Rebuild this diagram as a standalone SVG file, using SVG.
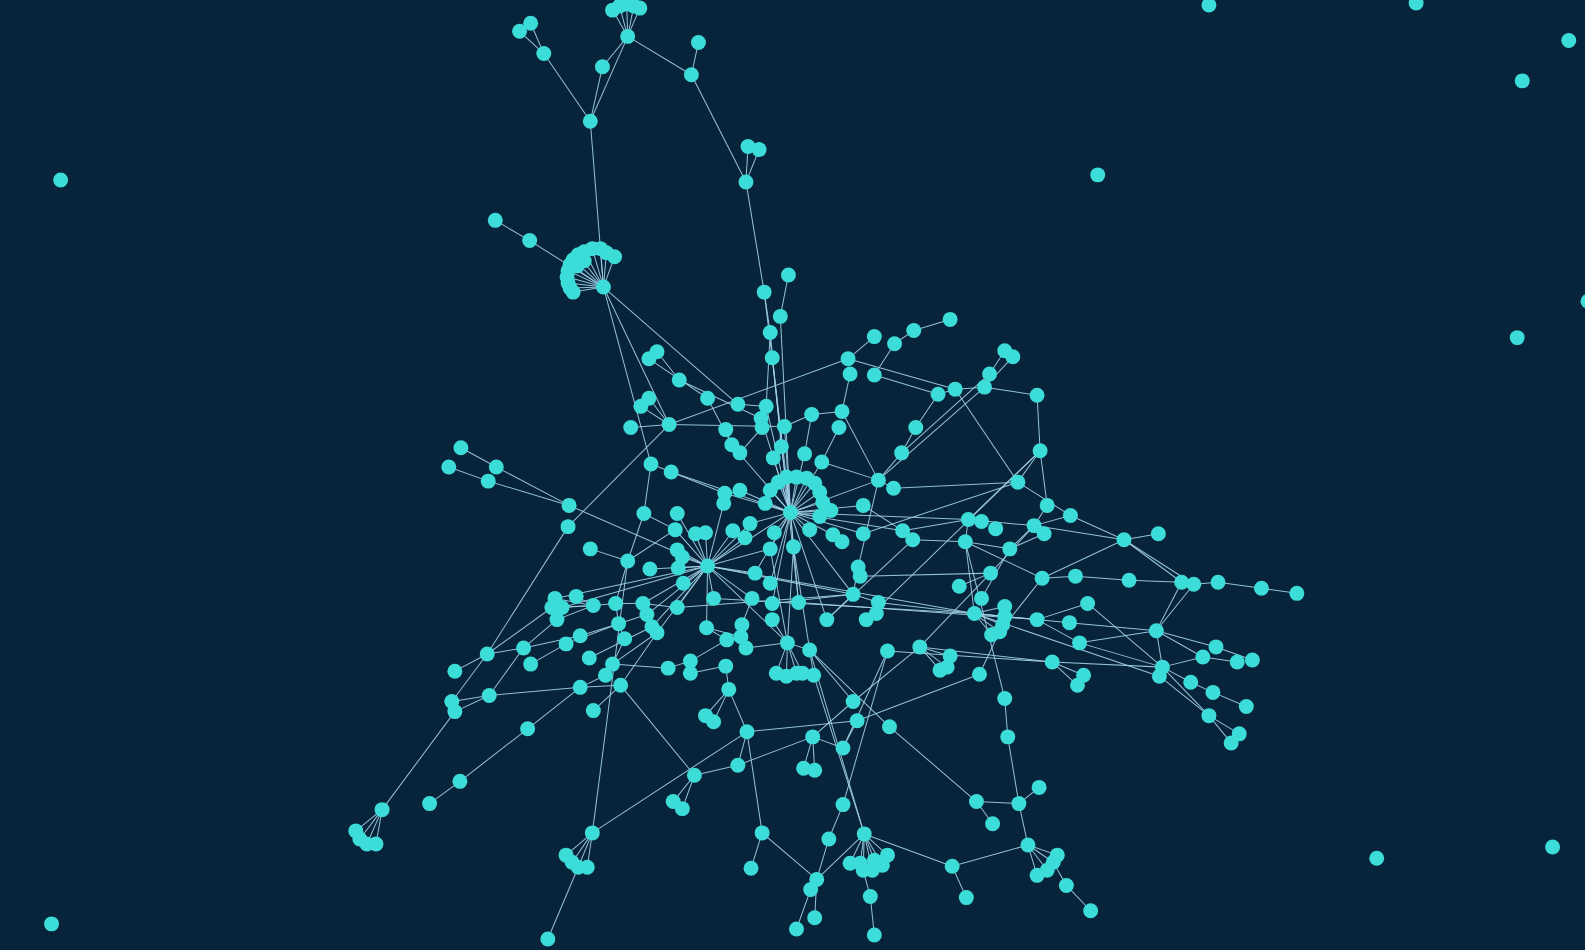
<svg xmlns="http://www.w3.org/2000/svg" width="1585" height="950" viewBox="0 0 1585 950">
<style>
.bg{fill:#07243a}
#edges line{stroke:#a4d3ea;stroke-width:1;stroke-opacity:0.9}
.nd circle{fill:#3cdcd8}
</style>
<rect class="bg" x="0" y="0" width="1585" height="950"/>
<g transform="scale(1.0108)">
<g id="edges">
<line x1="621" y1="36" x2="606" y2="10"/><line x1="621" y1="36" x2="613" y2="6"/><line x1="621" y1="36" x2="620" y2="4"/><line x1="621" y1="36" x2="627" y2="6"/><line x1="621" y1="36" x2="633" y2="8"/>
<line x1="621" y1="36" x2="684" y2="74"/><line x1="684" y1="74" x2="691" y2="42"/><line x1="621" y1="36" x2="596" y2="66"/><line x1="596" y1="66" x2="584" y2="120"/><line x1="621" y1="36" x2="584" y2="120"/>
<line x1="584" y1="120" x2="538" y2="53"/><line x1="538" y1="53" x2="514" y2="31"/><line x1="538" y1="53" x2="525" y2="23"/><line x1="684" y1="74" x2="738" y2="180"/><line x1="738" y1="180" x2="740" y2="145"/><line x1="738" y1="180" x2="751" y2="148"/><line x1="738" y1="180" x2="756" y2="289"/><line x1="584" y1="120" x2="597" y2="284"/>
<line x1="490" y1="218" x2="524" y2="238"/><line x1="524" y1="238" x2="597" y2="284"/>
<line x1="597" y1="284" x2="608" y2="254"/><line x1="597" y1="284" x2="600" y2="250"/><line x1="597" y1="284" x2="594" y2="246"/><line x1="597" y1="284" x2="586" y2="246"/><line x1="597" y1="284" x2="578" y2="249"/><line x1="597" y1="284" x2="572" y2="252"/><line x1="597" y1="284" x2="567" y2="257"/><line x1="597" y1="284" x2="564" y2="262"/><line x1="597" y1="284" x2="562" y2="268"/><line x1="597" y1="284" x2="561" y2="274"/><line x1="597" y1="284" x2="562" y2="280"/><line x1="597" y1="284" x2="564" y2="285"/><line x1="597" y1="284" x2="567" y2="289"/>
<line x1="597" y1="284" x2="644" y2="459"/><line x1="597" y1="284" x2="662" y2="420"/><line x1="597" y1="284" x2="730" y2="400"/>
<line x1="780" y1="272" x2="772" y2="313"/><line x1="756" y1="289" x2="762" y2="329"/><line x1="756" y1="289" x2="764" y2="354"/><line x1="772" y1="313" x2="782" y2="507"/><line x1="762" y1="329" x2="773" y2="442"/><line x1="764" y1="354" x2="782" y2="507"/><line x1="764" y1="354" x2="790" y2="596"/><line x1="762" y1="329" x2="758" y2="402"/>
<line x1="885" y1="340" x2="904" y2="327"/><line x1="904" y1="327" x2="940" y2="316"/><line x1="885" y1="340" x2="865" y2="371"/><line x1="839" y1="355" x2="865" y2="333"/>
<line x1="839" y1="355" x2="662" y2="420"/><line x1="839" y1="355" x2="945" y2="385"/><line x1="841" y1="370" x2="833" y2="407"/><line x1="833" y1="407" x2="803" y2="410"/><line x1="803" y1="410" x2="796" y2="449"/><line x1="803" y1="410" x2="776" y2="422"/><line x1="830" y1="423" x2="813" y2="457"/><line x1="813" y1="457" x2="869" y2="475"/><line x1="833" y1="407" x2="869" y2="475"/><line x1="869" y1="475" x2="892" y2="448"/><line x1="892" y1="448" x2="906" y2="423"/><line x1="906" y1="423" x2="928" y2="390"/><line x1="869" y1="475" x2="884" y2="483"/><line x1="869" y1="475" x2="782" y2="507"/><line x1="869" y1="475" x2="849" y2="561"/><line x1="865" y1="371" x2="928" y2="390"/><line x1="928" y1="390" x2="945" y2="385"/><line x1="945" y1="385" x2="974" y2="383"/><line x1="974" y1="383" x2="1026" y2="391"/><line x1="994" y1="347" x2="979" y2="370"/><line x1="1002" y1="353" x2="974" y2="383"/><line x1="979" y1="370" x2="892" y2="448"/><line x1="974" y1="383" x2="869" y2="475"/><line x1="1026" y1="391" x2="1029" y2="446"/><line x1="1029" y1="446" x2="1036" y2="500"/><line x1="1029" y1="446" x2="958" y2="514"/><line x1="1029" y1="446" x2="857" y2="613"/><line x1="1007" y1="477" x2="945" y2="385"/><line x1="1007" y1="477" x2="1059" y2="510"/><line x1="1007" y1="477" x2="854" y2="528"/><line x1="1007" y1="477" x2="1029" y2="446"/><line x1="884" y1="483" x2="1007" y2="477"/><line x1="1059" y1="510" x2="1112" y2="534"/><line x1="1036" y1="500" x2="1023" y2="520"/><line x1="1059" y1="510" x2="1023" y2="520"/><line x1="1112" y1="534" x2="1146" y2="528"/><line x1="1112" y1="534" x2="1169" y2="576"/><line x1="1112" y1="534" x2="1181" y2="578"/><line x1="1112" y1="534" x2="1031" y2="572"/><line x1="1112" y1="534" x2="1023" y2="520"/>
<line x1="1031" y1="572" x2="1064" y2="570"/><line x1="1064" y1="570" x2="1117" y2="574"/><line x1="1117" y1="574" x2="1169" y2="576"/><line x1="1169" y1="576" x2="1144" y2="624"/><line x1="1181" y1="578" x2="1144" y2="624"/><line x1="1181" y1="578" x2="1205" y2="576"/><line x1="1205" y1="576" x2="1248" y2="582"/><line x1="1248" y1="582" x2="1283" y2="587"/>
<line x1="1031" y1="572" x2="989" y2="625"/><line x1="1023" y1="520" x2="958" y2="514"/><line x1="1023" y1="520" x2="999" y2="543"/><line x1="1033" y1="528" x2="999" y2="543"/><line x1="999" y1="543" x2="955" y2="536"/><line x1="958" y1="514" x2="955" y2="536"/><line x1="955" y1="536" x2="964" y2="607"/><line x1="955" y1="536" x2="1031" y2="572"/><line x1="980" y1="567" x2="1023" y2="520"/><line x1="971" y1="592" x2="999" y2="543"/><line x1="949" y1="580" x2="980" y2="567"/>
<line x1="964" y1="607" x2="994" y2="600"/><line x1="964" y1="607" x2="994" y2="610"/><line x1="964" y1="607" x2="992" y2="618"/><line x1="964" y1="607" x2="989" y2="625"/><line x1="964" y1="607" x2="981" y2="628"/><line x1="964" y1="607" x2="1026" y2="613"/><line x1="964" y1="607" x2="1058" y2="616"/><line x1="1026" y1="613" x2="1076" y2="597"/><line x1="1026" y1="613" x2="1068" y2="636"/><line x1="1076" y1="597" x2="1150" y2="660"/><line x1="1058" y1="616" x2="1144" y2="624"/><line x1="1068" y1="636" x2="1144" y2="624"/><line x1="1068" y1="636" x2="1150" y2="660"/><line x1="1041" y1="655" x2="1150" y2="660"/><line x1="1041" y1="655" x2="1072" y2="668"/><line x1="1041" y1="655" x2="1066" y2="678"/><line x1="1041" y1="655" x2="878" y2="644"/><line x1="910" y1="640" x2="1041" y2="655"/><line x1="1144" y1="624" x2="1203" y2="640"/><line x1="1144" y1="624" x2="1190" y2="650"/><line x1="1150" y1="660" x2="1190" y2="650"/><line x1="1150" y1="660" x2="1144" y2="624"/><line x1="1190" y1="650" x2="1224" y2="655"/><line x1="1203" y1="640" x2="1239" y2="653"/><line x1="1150" y1="660" x2="1178" y2="675"/><line x1="1178" y1="675" x2="1200" y2="685"/><line x1="1200" y1="685" x2="1233" y2="699"/><line x1="1147" y1="669" x2="1196" y2="708"/><line x1="1150" y1="660" x2="1196" y2="708"/><line x1="1196" y1="708" x2="1226" y2="726"/><line x1="1196" y1="708" x2="1218" y2="735"/><line x1="964" y1="607" x2="1147" y2="669"/><line x1="869" y1="596" x2="964" y2="607"/><line x1="706" y1="592" x2="964" y2="607"/><line x1="790" y1="596" x2="1026" y2="613"/>
<line x1="782" y1="507" x2="757" y2="498"/><line x1="782" y1="507" x2="762" y2="485"/><line x1="782" y1="507" x2="770" y2="477"/><line x1="782" y1="507" x2="778" y2="472"/><line x1="782" y1="507" x2="788" y2="472"/><line x1="782" y1="507" x2="798" y2="473"/><line x1="782" y1="507" x2="806" y2="478"/><line x1="782" y1="507" x2="811" y2="487"/><line x1="782" y1="507" x2="814" y2="497"/><line x1="782" y1="507" x2="811" y2="511"/>
<line x1="782" y1="507" x2="773" y2="442"/><line x1="782" y1="507" x2="765" y2="453"/><line x1="782" y1="507" x2="796" y2="449"/><line x1="782" y1="507" x2="813" y2="457"/><line x1="782" y1="507" x2="822" y2="505"/><line x1="782" y1="507" x2="801" y2="524"/><line x1="782" y1="507" x2="854" y2="500"/><line x1="782" y1="507" x2="854" y2="528"/><line x1="782" y1="507" x2="824" y2="529"/><line x1="782" y1="507" x2="766" y2="527"/><line x1="782" y1="507" x2="762" y2="543"/><line x1="782" y1="507" x2="785" y2="541"/><line x1="782" y1="507" x2="742" y2="518"/><line x1="782" y1="507" x2="732" y2="485"/><line x1="782" y1="507" x2="717" y2="488"/><line x1="782" y1="507" x2="700" y2="560"/><line x1="782" y1="507" x2="747" y2="567"/><line x1="782" y1="507" x2="762" y2="577"/><line x1="782" y1="507" x2="764" y2="597"/><line x1="782" y1="507" x2="790" y2="596"/><line x1="782" y1="507" x2="818" y2="613"/><line x1="782" y1="507" x2="844" y2="588"/><line x1="782" y1="507" x2="893" y2="525"/><line x1="782" y1="507" x2="724" y2="440"/><line x1="782" y1="507" x2="753" y2="414"/><line x1="782" y1="507" x2="776" y2="422"/><line x1="782" y1="507" x2="758" y2="402"/><line x1="782" y1="507" x2="664" y2="467"/><line x1="782" y1="507" x2="958" y2="514"/>
<line x1="776" y1="422" x2="765" y2="453"/><line x1="662" y1="420" x2="776" y2="422"/><line x1="642" y1="394" x2="662" y2="420"/><line x1="634" y1="402" x2="662" y2="420"/><line x1="624" y1="423" x2="662" y2="420"/><line x1="650" y1="348" x2="672" y2="376"/><line x1="642" y1="355" x2="700" y2="394"/><line x1="700" y1="394" x2="724" y2="440"/><line x1="718" y1="425" x2="724" y2="440"/><line x1="672" y1="376" x2="753" y2="414"/><line x1="730" y1="400" x2="758" y2="402"/><line x1="754" y1="423" x2="732" y2="448"/>
<line x1="644" y1="459" x2="664" y2="467"/><line x1="644" y1="459" x2="637" y2="508"/><line x1="637" y1="508" x2="621" y2="555"/><line x1="637" y1="508" x2="668" y2="524"/><line x1="621" y1="555" x2="584" y2="543"/><line x1="621" y1="555" x2="668" y2="524"/><line x1="621" y1="555" x2="609" y2="597"/><line x1="621" y1="555" x2="586" y2="824"/><line x1="664" y1="467" x2="717" y2="488"/><line x1="562" y1="521" x2="662" y2="420"/><line x1="563" y1="500" x2="700" y2="560"/><line x1="563" y1="500" x2="491" y2="462"/><line x1="563" y1="500" x2="483" y2="476"/><line x1="456" y1="443" x2="491" y2="462"/><line x1="444" y1="462" x2="483" y2="476"/><line x1="562" y1="521" x2="482" y2="647"/>
<line x1="700" y1="560" x2="670" y2="544"/><line x1="700" y1="560" x2="675" y2="551"/><line x1="700" y1="560" x2="671" y2="562"/><line x1="700" y1="560" x2="676" y2="577"/><line x1="700" y1="560" x2="668" y2="524"/><line x1="700" y1="560" x2="688" y2="528"/><line x1="700" y1="560" x2="698" y2="527"/><line x1="700" y1="560" x2="670" y2="508"/><line x1="700" y1="560" x2="670" y2="601"/><line x1="700" y1="560" x2="636" y2="597"/><line x1="700" y1="560" x2="640" y2="608"/><line x1="700" y1="560" x2="645" y2="620"/><line x1="700" y1="560" x2="650" y2="626"/><line x1="700" y1="560" x2="706" y2="592"/><line x1="700" y1="560" x2="747" y2="567"/><line x1="700" y1="560" x2="744" y2="592"/><line x1="700" y1="560" x2="643" y2="563"/><line x1="700" y1="560" x2="716" y2="498"/><line x1="700" y1="560" x2="742" y2="518"/><line x1="700" y1="560" x2="725" y2="525"/><line x1="700" y1="560" x2="737" y2="532"/><line x1="700" y1="560" x2="762" y2="543"/><line x1="700" y1="560" x2="699" y2="621"/><line x1="700" y1="560" x2="549" y2="592"/><line x1="700" y1="560" x2="556" y2="601"/><line x1="700" y1="560" x2="779" y2="636"/><line x1="700" y1="560" x2="844" y2="588"/><line x1="700" y1="560" x2="964" y2="607"/>
<line x1="587" y1="599" x2="549" y2="592"/><line x1="587" y1="599" x2="546" y2="601"/><line x1="587" y1="599" x2="556" y2="601"/><line x1="587" y1="599" x2="551" y2="613"/><line x1="587" y1="599" x2="570" y2="590"/><line x1="587" y1="599" x2="609" y2="597"/><line x1="609" y1="597" x2="636" y2="597"/><line x1="636" y1="597" x2="670" y2="601"/><line x1="609" y1="597" x2="612" y2="617"/><line x1="612" y1="617" x2="618" y2="632"/><line x1="618" y1="632" x2="606" y2="657"/><line x1="612" y1="617" x2="640" y2="608"/><line x1="574" y1="629" x2="612" y2="617"/><line x1="518" y1="641" x2="574" y2="629"/><line x1="518" y1="641" x2="551" y2="613"/><line x1="546" y1="601" x2="482" y2="647"/><line x1="525" y1="657" x2="560" y2="637"/><line x1="560" y1="637" x2="612" y2="617"/><line x1="583" y1="651" x2="645" y2="620"/><line x1="606" y1="657" x2="650" y2="626"/><line x1="599" y1="668" x2="606" y2="657"/><line x1="574" y1="680" x2="599" y2="668"/><line x1="574" y1="680" x2="614" y2="678"/><line x1="606" y1="657" x2="661" y2="661"/><line x1="661" y1="661" x2="683" y2="654"/><line x1="683" y1="654" x2="719" y2="633"/><line x1="683" y1="666" x2="718" y2="659"/><line x1="614" y1="678" x2="650" y2="626"/><line x1="614" y1="678" x2="687" y2="767"/><line x1="587" y1="703" x2="614" y2="678"/><line x1="718" y1="659" x2="721" y2="682"/><line x1="721" y1="682" x2="698" y2="708"/><line x1="721" y1="682" x2="706" y2="714"/><line x1="721" y1="682" x2="739" y2="724"/><line x1="739" y1="724" x2="754" y2="824"/><line x1="739" y1="724" x2="848" y2="713"/><line x1="739" y1="724" x2="730" y2="757"/><line x1="687" y1="767" x2="730" y2="757"/><line x1="730" y1="757" x2="804" y2="729"/><line x1="687" y1="767" x2="666" y2="793"/><line x1="687" y1="767" x2="675" y2="800"/><line x1="586" y1="824" x2="739" y2="724"/>
<line x1="804" y1="729" x2="795" y2="760"/><line x1="804" y1="729" x2="806" y2="762"/><line x1="804" y1="729" x2="844" y2="694"/><line x1="804" y1="729" x2="834" y2="740"/><line x1="844" y1="694" x2="910" y2="640"/><line x1="844" y1="694" x2="801" y2="643"/><line x1="848" y1="713" x2="969" y2="667"/><line x1="848" y1="713" x2="834" y2="740"/><line x1="834" y1="740" x2="878" y2="644"/><line x1="880" y1="719" x2="801" y2="643"/><line x1="880" y1="719" x2="966" y2="793"/><line x1="966" y1="793" x2="1008" y2="795"/><line x1="966" y1="793" x2="982" y2="815"/><line x1="1008" y1="795" x2="1028" y2="779"/><line x1="1008" y1="795" x2="997" y2="729"/><line x1="997" y1="729" x2="994" y2="691"/><line x1="994" y1="691" x2="955" y2="536"/><line x1="1008" y1="795" x2="1017" y2="836"/><line x1="1017" y1="836" x2="1046" y2="846"/><line x1="1017" y1="836" x2="1042" y2="853"/><line x1="1017" y1="836" x2="1036" y2="861"/><line x1="1017" y1="836" x2="1026" y2="866"/><line x1="1042" y1="853" x2="1055" y2="876"/><line x1="1055" y1="876" x2="1079" y2="901"/><line x1="1017" y1="836" x2="942" y2="857"/><line x1="942" y1="857" x2="956" y2="888"/><line x1="942" y1="857" x2="855" y2="825"/>
<line x1="855" y1="825" x2="841" y2="854"/><line x1="855" y1="825" x2="851" y2="854"/><line x1="855" y1="825" x2="854" y2="861"/><line x1="855" y1="825" x2="863" y2="861"/><line x1="855" y1="825" x2="865" y2="851"/><line x1="855" y1="825" x2="873" y2="856"/><line x1="855" y1="825" x2="878" y2="846"/><line x1="854" y1="861" x2="861" y2="887"/><line x1="861" y1="887" x2="865" y2="925"/><line x1="855" y1="825" x2="805" y2="668"/><line x1="855" y1="825" x2="801" y2="643"/><line x1="855" y1="825" x2="808" y2="870"/><line x1="834" y1="796" x2="820" y2="830"/><line x1="820" y1="830" x2="808" y2="870"/><line x1="834" y1="796" x2="878" y2="644"/><line x1="808" y1="870" x2="802" y2="880"/><line x1="802" y1="880" x2="788" y2="919"/><line x1="808" y1="870" x2="806" y2="908"/><line x1="754" y1="824" x2="743" y2="859"/><line x1="754" y1="824" x2="808" y2="870"/>
<line x1="779" y1="636" x2="768" y2="666"/><line x1="779" y1="636" x2="778" y2="669"/><line x1="779" y1="636" x2="788" y2="666"/><line x1="779" y1="636" x2="794" y2="666"/><line x1="779" y1="636" x2="762" y2="543"/><line x1="779" y1="636" x2="785" y2="541"/><line x1="779" y1="636" x2="764" y2="613"/><line x1="779" y1="636" x2="801" y2="643"/><line x1="801" y1="643" x2="805" y2="668"/><line x1="801" y1="643" x2="785" y2="541"/><line x1="910" y1="640" x2="940" y2="649"/><line x1="910" y1="640" x2="937" y2="660"/><line x1="910" y1="640" x2="930" y2="663"/><line x1="910" y1="640" x2="980" y2="567"/><line x1="969" y1="667" x2="992" y2="618"/>
<line x1="844" y1="588" x2="849" y2="561"/><line x1="844" y1="588" x2="869" y2="596"/><line x1="844" y1="588" x2="818" y2="613"/><line x1="844" y1="588" x2="764" y2="597"/><line x1="867" y1="607" x2="869" y2="596"/><line x1="818" y1="613" x2="903" y2="534"/><line x1="670" y1="601" x2="844" y2="588"/><line x1="854" y1="500" x2="893" y2="525"/><line x1="893" y1="525" x2="958" y2="514"/><line x1="903" y1="534" x2="955" y2="536"/><line x1="851" y1="570" x2="980" y2="567"/>
<line x1="734" y1="618" x2="744" y2="592"/><line x1="733" y1="630" x2="699" y2="621"/><line x1="738" y1="641" x2="779" y2="636"/><line x1="719" y1="633" x2="699" y2="621"/>
<line x1="482" y1="647" x2="447" y2="694"/><line x1="482" y1="647" x2="450" y2="664"/><line x1="482" y1="647" x2="518" y2="641"/><line x1="447" y1="694" x2="484" y2="688"/><line x1="450" y1="704" x2="484" y2="688"/><line x1="450" y1="704" x2="378" y2="801"/><line x1="378" y1="801" x2="352" y2="822"/><line x1="378" y1="801" x2="356" y2="830"/><line x1="378" y1="801" x2="363" y2="835"/><line x1="378" y1="801" x2="372" y2="835"/><line x1="484" y1="688" x2="574" y2="680"/><line x1="484" y1="688" x2="518" y2="641"/><line x1="574" y1="680" x2="522" y2="721"/><line x1="522" y1="721" x2="455" y2="773"/><line x1="455" y1="773" x2="425" y2="795"/><line x1="586" y1="824" x2="560" y2="846"/><line x1="586" y1="824" x2="566" y2="853"/><line x1="586" y1="824" x2="572" y2="858"/><line x1="586" y1="824" x2="581" y2="858"/><line x1="572" y1="858" x2="542" y2="929"/>
</g>
<g id="nodes" class="nd">
<g id="i1"><circle cx="1196" cy="5" r="7.4"/></g><g id="i2"><circle cx="1401" cy="3" r="7.4"/></g><g id="i3"><circle cx="1552" cy="40" r="7.4"/></g><g id="i4"><circle cx="1506" cy="80" r="7.4"/></g><g id="i5"><circle cx="1086" cy="173" r="7.4"/></g><g id="i6"><circle cx="1501" cy="334" r="7.4"/></g><g id="i7"><circle cx="1571" cy="298" r="7.4"/></g><g id="i8"><circle cx="60" cy="178" r="7.4"/></g><g id="i9"><circle cx="51" cy="914" r="7.4"/></g><g id="i10"><circle cx="1362" cy="849" r="7.4"/></g><g id="i11"><circle cx="1536" cy="838" r="7.4"/></g>
<g id="t0"><circle cx="621" cy="36" r="7.4"/></g><g id="t1"><circle cx="606" cy="10" r="7.4"/></g><g id="t2"><circle cx="613" cy="6" r="7.4"/></g><g id="t3"><circle cx="620" cy="4" r="7.4"/></g><g id="t4"><circle cx="627" cy="6" r="7.4"/></g><g id="t5"><circle cx="633" cy="8" r="7.4"/></g><g id="t6"><circle cx="684" cy="74" r="7.4"/></g><g id="t7"><circle cx="691" cy="42" r="7.4"/></g><g id="t8"><circle cx="596" cy="66" r="7.4"/></g><g id="t9"><circle cx="584" cy="120" r="7.4"/></g><g id="t10"><circle cx="538" cy="53" r="7.4"/></g><g id="t11"><circle cx="514" cy="31" r="7.4"/></g><g id="t12"><circle cx="525" cy="23" r="7.4"/></g><g id="t13"><circle cx="738" cy="180" r="7.4"/></g><g id="t14"><circle cx="740" cy="145" r="7.4"/></g><g id="t15"><circle cx="751" cy="148" r="7.4"/></g>
<g id="f1"><circle cx="608" cy="254" r="7.4"/></g><g id="f2"><circle cx="600" cy="250" r="7.4"/></g><g id="f3"><circle cx="594" cy="246" r="7.4"/></g><g id="f4"><circle cx="586" cy="246" r="7.4"/></g><g id="f5"><circle cx="578" cy="249" r="7.4"/></g><g id="f6"><circle cx="572" cy="252" r="7.4"/></g><g id="f7"><circle cx="567" cy="257" r="7.4"/></g><g id="f8"><circle cx="564" cy="262" r="7.4"/></g><g id="f9"><circle cx="562" cy="268" r="7.4"/></g><g id="f10"><circle cx="561" cy="274" r="7.4"/></g><g id="f11"><circle cx="562" cy="280" r="7.4"/></g><g id="f12"><circle cx="564" cy="285" r="7.4"/></g><g id="f13"><circle cx="567" cy="289" r="7.4"/></g><g id="f14"><circle cx="571" cy="263" r="7.4"/></g><g id="f15"><circle cx="578" cy="258" r="7.4"/></g><g id="f0"><circle cx="597" cy="284" r="7.4"/></g>
<g id="a1"><circle cx="524" cy="238" r="7.4"/></g><g id="a2"><circle cx="490" cy="218" r="7.4"/></g>
<g id="v1"><circle cx="756" cy="289" r="7.4"/></g><g id="v2"><circle cx="780" cy="272" r="7.4"/></g><g id="v3"><circle cx="772" cy="313" r="7.4"/></g><g id="v4"><circle cx="762" cy="329" r="7.4"/></g><g id="v5"><circle cx="764" cy="354" r="7.4"/></g>
<g id="u1"><circle cx="865" cy="333" r="7.4"/></g><g id="u2"><circle cx="885" cy="340" r="7.4"/></g><g id="u3"><circle cx="904" cy="327" r="7.4"/></g><g id="u4"><circle cx="940" cy="316" r="7.4"/></g><g id="u5"><circle cx="839" cy="355" r="7.4"/></g><g id="u6"><circle cx="841" cy="370" r="7.4"/></g><g id="u7"><circle cx="865" cy="371" r="7.4"/></g><g id="u8"><circle cx="994" cy="347" r="7.4"/></g><g id="u9"><circle cx="1002" cy="353" r="7.4"/></g><g id="u10"><circle cx="979" cy="370" r="7.4"/></g><g id="u11"><circle cx="974" cy="383" r="7.4"/></g><g id="u12"><circle cx="945" cy="385" r="7.4"/></g><g id="u13"><circle cx="928" cy="390" r="7.4"/></g><g id="u14"><circle cx="1026" cy="391" r="7.4"/></g><g id="u15"><circle cx="1029" cy="446" r="7.4"/></g><g id="u16"><circle cx="1007" cy="477" r="7.4"/></g><g id="u17"><circle cx="1036" cy="500" r="7.4"/></g><g id="u18"><circle cx="1059" cy="510" r="7.4"/></g><g id="u19"><circle cx="1112" cy="534" r="7.4"/></g><g id="u20"><circle cx="1146" cy="528" r="7.4"/></g><g id="u21"><circle cx="906" cy="423" r="7.4"/></g><g id="u22"><circle cx="892" cy="448" r="7.4"/></g><g id="u23"><circle cx="869" cy="475" r="7.4"/></g><g id="u24"><circle cx="884" cy="483" r="7.4"/></g>
<g id="c1"><circle cx="650" cy="348" r="7.4"/></g><g id="c2"><circle cx="642" cy="355" r="7.4"/></g><g id="c3"><circle cx="672" cy="376" r="7.4"/></g><g id="c4"><circle cx="700" cy="394" r="7.4"/></g><g id="c5"><circle cx="642" cy="394" r="7.4"/></g><g id="c6"><circle cx="634" cy="402" r="7.4"/></g><g id="c7"><circle cx="624" cy="423" r="7.4"/></g><g id="c8"><circle cx="662" cy="420" r="7.4"/></g><g id="c9"><circle cx="730" cy="400" r="7.4"/></g><g id="c10"><circle cx="758" cy="402" r="7.4"/></g><g id="c11"><circle cx="753" cy="414" r="7.4"/></g><g id="c12"><circle cx="754" cy="423" r="7.4"/></g><g id="c13"><circle cx="776" cy="422" r="7.4"/></g><g id="c14"><circle cx="803" cy="410" r="7.4"/></g><g id="c15"><circle cx="833" cy="407" r="7.4"/></g><g id="c16"><circle cx="830" cy="423" r="7.4"/></g><g id="c17"><circle cx="718" cy="425" r="7.4"/></g><g id="c18"><circle cx="724" cy="440" r="7.4"/></g><g id="c19"><circle cx="732" cy="448" r="7.4"/></g><g id="c20"><circle cx="773" cy="442" r="7.4"/></g><g id="c21"><circle cx="765" cy="453" r="7.4"/></g><g id="c22"><circle cx="796" cy="449" r="7.4"/></g><g id="c23"><circle cx="813" cy="457" r="7.4"/></g><g id="c24"><circle cx="644" cy="459" r="7.4"/></g><g id="c25"><circle cx="664" cy="467" r="7.4"/></g>
<g id="h1a1"><circle cx="757" cy="498" r="7.4"/></g><g id="h1a2"><circle cx="762" cy="485" r="7.4"/></g><g id="h1a3"><circle cx="770" cy="477" r="7.4"/></g><g id="h1a4"><circle cx="778" cy="472" r="7.4"/></g><g id="h1a5"><circle cx="788" cy="472" r="7.4"/></g><g id="h1a6"><circle cx="798" cy="473" r="7.4"/></g><g id="h1a7"><circle cx="806" cy="478" r="7.4"/></g><g id="h1a8"><circle cx="811" cy="487" r="7.4"/></g><g id="h1a9"><circle cx="814" cy="497" r="7.4"/></g><g id="h1a10"><circle cx="811" cy="511" r="7.4"/></g><g id="h1"><circle cx="782" cy="507" r="7.4"/></g>
<g id="m1"><circle cx="822" cy="505" r="7.4"/></g><g id="m2"><circle cx="801" cy="524" r="7.4"/></g><g id="m3"><circle cx="854" cy="500" r="7.4"/></g><g id="m4"><circle cx="854" cy="528" r="7.4"/></g><g id="m5"><circle cx="824" cy="529" r="7.4"/></g><g id="m6"><circle cx="833" cy="536" r="7.4"/></g><g id="m7"><circle cx="893" cy="525" r="7.4"/></g><g id="m8"><circle cx="903" cy="534" r="7.4"/></g><g id="m9"><circle cx="717" cy="488" r="7.4"/></g><g id="m10"><circle cx="732" cy="485" r="7.4"/></g><g id="m11"><circle cx="716" cy="498" r="7.4"/></g><g id="m12"><circle cx="742" cy="518" r="7.4"/></g><g id="m13"><circle cx="725" cy="525" r="7.4"/></g><g id="m14"><circle cx="737" cy="532" r="7.4"/></g><g id="m15"><circle cx="766" cy="527" r="7.4"/></g><g id="m16"><circle cx="762" cy="543" r="7.4"/></g><g id="m17"><circle cx="785" cy="541" r="7.4"/></g><g id="m18"><circle cx="670" cy="508" r="7.4"/></g><g id="m19"><circle cx="668" cy="524" r="7.4"/></g><g id="m20"><circle cx="688" cy="528" r="7.4"/></g><g id="m21"><circle cx="698" cy="527" r="7.4"/></g><g id="m22"><circle cx="637" cy="508" r="7.4"/></g><g id="m23"><circle cx="584" cy="543" r="7.4"/></g><g id="m24"><circle cx="621" cy="555" r="7.4"/></g><g id="m25"><circle cx="643" cy="563" r="7.4"/></g>
<g id="k1"><circle cx="670" cy="544" r="7.4"/></g><g id="k2"><circle cx="675" cy="551" r="7.4"/></g><g id="k3"><circle cx="671" cy="562" r="7.4"/></g><g id="k4"><circle cx="676" cy="577" r="7.4"/></g><g id="h2"><circle cx="700" cy="560" r="7.4"/></g><g id="k5"><circle cx="747" cy="567" r="7.4"/></g><g id="k6"><circle cx="762" cy="577" r="7.4"/></g><g id="k7"><circle cx="706" cy="592" r="7.4"/></g><g id="k8"><circle cx="744" cy="592" r="7.4"/></g><g id="k9"><circle cx="670" cy="601" r="7.4"/></g><g id="k10"><circle cx="636" cy="597" r="7.4"/></g><g id="k11"><circle cx="609" cy="597" r="7.4"/></g><g id="k12"><circle cx="587" cy="599" r="7.4"/></g><g id="k13"><circle cx="570" cy="590" r="7.4"/></g><g id="k14"><circle cx="549" cy="592" r="7.4"/></g><g id="k15"><circle cx="546" cy="601" r="7.4"/></g><g id="k16"><circle cx="556" cy="601" r="7.4"/></g><g id="k17"><circle cx="551" cy="613" r="7.4"/></g><g id="k18"><circle cx="640" cy="608" r="7.4"/></g><g id="k19"><circle cx="645" cy="620" r="7.4"/></g><g id="k20"><circle cx="650" cy="626" r="7.4"/></g><g id="k21"><circle cx="612" cy="617" r="7.4"/></g><g id="k22"><circle cx="618" cy="632" r="7.4"/></g><g id="k23"><circle cx="574" cy="629" r="7.4"/></g><g id="k24"><circle cx="560" cy="637" r="7.4"/></g><g id="k25"><circle cx="518" cy="641" r="7.4"/></g><g id="k26"><circle cx="525" cy="657" r="7.4"/></g><g id="k27"><circle cx="583" cy="651" r="7.4"/></g><g id="k28"><circle cx="606" cy="657" r="7.4"/></g><g id="k29"><circle cx="599" cy="668" r="7.4"/></g><g id="k30"><circle cx="574" cy="680" r="7.4"/></g><g id="k31"><circle cx="614" cy="678" r="7.4"/></g><g id="k32"><circle cx="587" cy="703" r="7.4"/></g><g id="k33"><circle cx="661" cy="661" r="7.4"/></g><g id="k34"><circle cx="683" cy="654" r="7.4"/></g><g id="k35"><circle cx="683" cy="666" r="7.4"/></g><g id="k36"><circle cx="718" cy="659" r="7.4"/></g><g id="k37"><circle cx="699" cy="621" r="7.4"/></g><g id="k38"><circle cx="719" cy="633" r="7.4"/></g><g id="k39"><circle cx="734" cy="618" r="7.4"/></g><g id="k40"><circle cx="733" cy="630" r="7.4"/></g><g id="k41"><circle cx="738" cy="641" r="7.4"/></g><g id="k42"><circle cx="764" cy="597" r="7.4"/></g><g id="k43"><circle cx="764" cy="613" r="7.4"/></g><g id="k44"><circle cx="790" cy="596" r="7.4"/></g><g id="k45"><circle cx="818" cy="613" r="7.4"/></g><g id="k46"><circle cx="844" cy="588" r="7.4"/></g><g id="k47"><circle cx="849" cy="561" r="7.4"/></g><g id="k48"><circle cx="851" cy="570" r="7.4"/></g><g id="k49"><circle cx="869" cy="596" r="7.4"/></g><g id="k50"><circle cx="867" cy="607" r="7.4"/></g><g id="k51"><circle cx="857" cy="613" r="7.4"/></g><g id="k52"><circle cx="779" cy="636" r="7.4"/></g><g id="k53"><circle cx="801" cy="643" r="7.4"/></g><g id="k54"><circle cx="768" cy="666" r="7.4"/></g><g id="k55"><circle cx="778" cy="669" r="7.4"/></g><g id="k56"><circle cx="788" cy="666" r="7.4"/></g><g id="k57"><circle cx="794" cy="666" r="7.4"/></g><g id="k58"><circle cx="805" cy="668" r="7.4"/></g>
<g id="l1"><circle cx="721" cy="682" r="7.4"/></g><g id="l2"><circle cx="698" cy="708" r="7.4"/></g><g id="l3"><circle cx="706" cy="714" r="7.4"/></g><g id="l4"><circle cx="739" cy="724" r="7.4"/></g><g id="l5"><circle cx="730" cy="757" r="7.4"/></g><g id="l6"><circle cx="687" cy="767" r="7.4"/></g><g id="l7"><circle cx="666" cy="793" r="7.4"/></g><g id="l8"><circle cx="675" cy="800" r="7.4"/></g><g id="l9"><circle cx="804" cy="729" r="7.4"/></g><g id="l10"><circle cx="795" cy="760" r="7.4"/></g><g id="l11"><circle cx="806" cy="762" r="7.4"/></g><g id="l12"><circle cx="844" cy="694" r="7.4"/></g><g id="l13"><circle cx="848" cy="713" r="7.4"/></g><g id="l14"><circle cx="834" cy="740" r="7.4"/></g><g id="l15"><circle cx="880" cy="719" r="7.4"/></g><g id="l16"><circle cx="878" cy="644" r="7.4"/></g><g id="l17"><circle cx="910" cy="640" r="7.4"/></g><g id="l18"><circle cx="940" cy="649" r="7.4"/></g><g id="l19"><circle cx="937" cy="660" r="7.4"/></g><g id="l20"><circle cx="930" cy="663" r="7.4"/></g><g id="l21"><circle cx="969" cy="667" r="7.4"/></g><g id="l22"><circle cx="754" cy="824" r="7.4"/></g><g id="l23"><circle cx="743" cy="859" r="7.4"/></g><g id="l24"><circle cx="834" cy="796" r="7.4"/></g><g id="l25"><circle cx="820" cy="830" r="7.4"/></g><g id="l26"><circle cx="808" cy="870" r="7.4"/></g><g id="l27"><circle cx="802" cy="880" r="7.4"/></g><g id="l28"><circle cx="788" cy="919" r="7.4"/></g><g id="l29"><circle cx="806" cy="908" r="7.4"/></g>
<g id="p1"><circle cx="841" cy="854" r="7.4"/></g><g id="p2"><circle cx="851" cy="854" r="7.4"/></g><g id="p3"><circle cx="854" cy="861" r="7.4"/></g><g id="p4"><circle cx="863" cy="861" r="7.4"/></g><g id="p5"><circle cx="865" cy="851" r="7.4"/></g><g id="p6"><circle cx="873" cy="856" r="7.4"/></g><g id="p7"><circle cx="878" cy="846" r="7.4"/></g><g id="p0"><circle cx="855" cy="825" r="7.4"/></g><g id="p8"><circle cx="861" cy="887" r="7.4"/></g><g id="p9"><circle cx="865" cy="925" r="7.4"/></g><g id="p10"><circle cx="942" cy="857" r="7.4"/></g><g id="p11"><circle cx="956" cy="888" r="7.4"/></g>
<g id="q1"><circle cx="966" cy="793" r="7.4"/></g><g id="q2"><circle cx="982" cy="815" r="7.4"/></g><g id="q3"><circle cx="1008" cy="795" r="7.4"/></g><g id="q4"><circle cx="1028" cy="779" r="7.4"/></g><g id="q5"><circle cx="997" cy="729" r="7.4"/></g><g id="q6"><circle cx="994" cy="691" r="7.4"/></g><g id="q0"><circle cx="1017" cy="836" r="7.4"/></g><g id="q7"><circle cx="1046" cy="846" r="7.4"/></g><g id="q8"><circle cx="1042" cy="853" r="7.4"/></g><g id="q9"><circle cx="1036" cy="861" r="7.4"/></g><g id="q10"><circle cx="1026" cy="866" r="7.4"/></g><g id="q11"><circle cx="1055" cy="876" r="7.4"/></g><g id="q12"><circle cx="1079" cy="901" r="7.4"/></g>
<g id="w1"><circle cx="456" cy="443" r="7.4"/></g><g id="w2"><circle cx="491" cy="462" r="7.4"/></g><g id="w3"><circle cx="444" cy="462" r="7.4"/></g><g id="w4"><circle cx="483" cy="476" r="7.4"/></g><g id="w5"><circle cx="563" cy="500" r="7.4"/></g><g id="w6"><circle cx="562" cy="521" r="7.4"/></g><g id="w7"><circle cx="482" cy="647" r="7.4"/></g><g id="w8"><circle cx="450" cy="664" r="7.4"/></g><g id="w9"><circle cx="447" cy="694" r="7.4"/></g><g id="w10"><circle cx="450" cy="704" r="7.4"/></g><g id="w11"><circle cx="484" cy="688" r="7.4"/></g><g id="w12"><circle cx="378" cy="801" r="7.4"/></g><g id="w13"><circle cx="352" cy="822" r="7.4"/></g><g id="w14"><circle cx="356" cy="830" r="7.4"/></g><g id="w15"><circle cx="363" cy="835" r="7.4"/></g><g id="w16"><circle cx="372" cy="835" r="7.4"/></g><g id="w17"><circle cx="522" cy="721" r="7.4"/></g><g id="w18"><circle cx="455" cy="773" r="7.4"/></g><g id="w19"><circle cx="425" cy="795" r="7.4"/></g><g id="w20"><circle cx="586" cy="824" r="7.4"/></g><g id="w21"><circle cx="560" cy="846" r="7.4"/></g><g id="w22"><circle cx="566" cy="853" r="7.4"/></g><g id="w23"><circle cx="572" cy="858" r="7.4"/></g><g id="w24"><circle cx="581" cy="858" r="7.4"/></g><g id="w25"><circle cx="542" cy="929" r="7.4"/></g>
<g id="r1"><circle cx="958" cy="514" r="7.4"/></g><g id="r2"><circle cx="971" cy="516" r="7.4"/></g><g id="r3"><circle cx="985" cy="523" r="7.4"/></g><g id="r4"><circle cx="1023" cy="520" r="7.4"/></g><g id="r5"><circle cx="1033" cy="528" r="7.4"/></g><g id="r6"><circle cx="955" cy="536" r="7.4"/></g><g id="r7"><circle cx="999" cy="543" r="7.4"/></g><g id="r8"><circle cx="980" cy="567" r="7.4"/></g><g id="r9"><circle cx="949" cy="580" r="7.4"/></g><g id="r10"><circle cx="971" cy="592" r="7.4"/></g><g id="r11"><circle cx="1031" cy="572" r="7.4"/></g><g id="r12"><circle cx="1064" cy="570" r="7.4"/></g><g id="r13"><circle cx="1117" cy="574" r="7.4"/></g><g id="r14"><circle cx="1169" cy="576" r="7.4"/></g><g id="r15"><circle cx="1181" cy="578" r="7.4"/></g><g id="r16"><circle cx="1205" cy="576" r="7.4"/></g><g id="r17"><circle cx="1248" cy="582" r="7.4"/></g><g id="r18"><circle cx="1283" cy="587" r="7.4"/></g><g id="r19"><circle cx="994" cy="600" r="7.4"/></g><g id="r20"><circle cx="994" cy="610" r="7.4"/></g><g id="r21"><circle cx="992" cy="618" r="7.4"/></g><g id="r22"><circle cx="989" cy="625" r="7.4"/></g><g id="r23"><circle cx="981" cy="628" r="7.4"/></g><g id="r0"><circle cx="964" cy="607" r="7.4"/></g><g id="r24"><circle cx="1026" cy="613" r="7.4"/></g><g id="r25"><circle cx="1058" cy="616" r="7.4"/></g><g id="r26"><circle cx="1076" cy="597" r="7.4"/></g><g id="r27"><circle cx="1144" cy="624" r="7.4"/></g><g id="r28"><circle cx="1068" cy="636" r="7.4"/></g><g id="r29"><circle cx="1041" cy="655" r="7.4"/></g><g id="r30"><circle cx="1072" cy="668" r="7.4"/></g><g id="r31"><circle cx="1066" cy="678" r="7.4"/></g><g id="r32"><circle cx="1150" cy="660" r="7.4"/></g><g id="r33"><circle cx="1147" cy="669" r="7.4"/></g><g id="r34"><circle cx="1190" cy="650" r="7.4"/></g><g id="r35"><circle cx="1203" cy="640" r="7.4"/></g><g id="r36"><circle cx="1224" cy="655" r="7.4"/></g><g id="r37"><circle cx="1239" cy="653" r="7.4"/></g><g id="r38"><circle cx="1178" cy="675" r="7.4"/></g><g id="r39"><circle cx="1200" cy="685" r="7.4"/></g><g id="r40"><circle cx="1233" cy="699" r="7.4"/></g><g id="r41"><circle cx="1196" cy="708" r="7.4"/></g><g id="r42"><circle cx="1226" cy="726" r="7.4"/></g><g id="r43"><circle cx="1218" cy="735" r="7.4"/></g>
</g>
</g>
</svg>
